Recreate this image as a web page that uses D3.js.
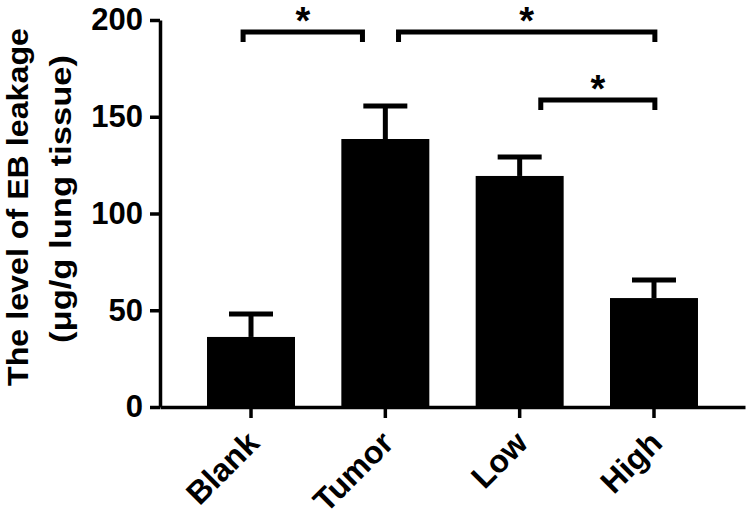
<!DOCTYPE html>
<html>
<head>
<meta charset="utf-8">
<script src="https://cdn.jsdelivr.net/npm/d3@7"></script>
<style>
  body { margin: 0; background: #fff; }
  svg { display: block; font-family: "Liberation Sans", Arial, sans-serif; font-weight: bold; }
</style>
</head>
<body>
<div id="chart"></div>
<script>
const groups = ["Blank", "Tumor", "Low", "High"];
const means = [36.2, 138.5, 119.4, 56.3];
const errors = [11.9, 17.1, 9.8, 9.3];
const yTicks = [0, 50, 100, 150, 200];
const titleLines = ["The level of EB leakage", "(\u03bcg/g lung tissue)"];

// significance brackets: from group, to group, where they sit in each band, level
const sigFrom = ["Blank", "Tumor", "Low"];
const sigTo = ["Tumor", "High", "High"];
const sigFromPos = [0.41, 0.65, 0.74];
const sigToPos = [0.24, 0.51, 0.51];
const sigLevel = [193.8, 193.8, 158.7];
const sigMark = ["*", "*", "*"];

const drawChart = () => {
  const width = 752;
  const height = 518;

  const x = d3.scaleBand()
      .domain(groups)
      .range([160, 745])
      .paddingInner(0.345)
      .paddingOuter(0.35);

  const y = d3.scaleLinear()
      .domain([0, 200])
      .range([407, 20]);

  const svg = d3.select("#chart")
      .append("svg")
      .attr("width", width)
      .attr("height", height);

  const rows = groups.map((g, i) => ({name: g, mean: means[i], err: errors[i]}));
  const cx = d => x(d.name) + x.bandwidth() / 2;
  const capHalf = x.bandwidth() * 0.25;

  // error bars (drawn first, bar covers the bottom of the stem)
  const eb = svg.append("g").attr("stroke", "#000").attr("stroke-width", 5);
  eb.selectAll(".stem").data(rows).enter().append("line")
      .attr("x1", cx).attr("x2", cx)
      .attr("y1", d => y(d.mean)).attr("y2", d => y(d.mean + d.err));
  eb.selectAll(".cap").data(rows).enter().append("line")
      .attr("x1", d => cx(d) - capHalf).attr("x2", d => cx(d) + capHalf)
      .attr("y1", d => y(d.mean + d.err)).attr("y2", d => y(d.mean + d.err));

  svg.selectAll("rect").data(rows).enter().append("rect")
      .attr("x", d => x(d.name))
      .attr("y", d => y(d.mean))
      .attr("width", x.bandwidth())
      .attr("height", d => y(0) - y(d.mean))
      .attr("fill", "#000");

  // axes
  const yAxis = svg.append("g")
      .attr("transform", "translate(160,0)")
      .call(d3.axisLeft(y).tickValues(yTicks).tickSize(10).tickSizeOuter(0).tickPadding(7));
  yAxis.selectAll("text").attr("font-size", 31).attr("font-family", null).attr("fill", "#000");

  const xAxis = svg.append("g")
      .attr("transform", "translate(0,407)")
      .call(d3.axisBottom(x).tickSize(11).tickSizeOuter(0));
  xAxis.selectAll("text")
      .attr("font-size", 32)
      .attr("font-family", null)
      .attr("fill", "#000")
      .attr("text-anchor", "end")
      .attr("y", 0)
      .attr("dy", 0)
      .attr("transform", "translate(10,38) rotate(-45)");

  svg.selectAll(".domain").attr("stroke-width", 3.5);
  svg.selectAll(".tick line").attr("stroke-width", 3.5);

  // y title, two lines
  const titleX = [28, 71];
  const titleY = [207, 199];
  const titleLen = [358, 288];
  svg.selectAll(".ytitle").data(titleLines).enter().append("text")
      .attr("class", "ytitle")
      .attr("text-anchor", "middle")
      .attr("font-size", 30)
      .attr("textLength", (d, i) => titleLen[i])
      .attr("lengthAdjust", "spacingAndGlyphs")
      .attr("transform", (d, i) => `translate(${titleX[i]},${titleY[i]}) rotate(-90)`)
      .text(d => d);

  // significance brackets
  const sig = sigFrom.map((f, i) => ({
    x1: x(f) + x.bandwidth() * sigFromPos[i],
    x2: x(sigTo[i]) + x.bandwidth() * sigToPos[i],
    y: y(sigLevel[i]),
    mark: sigMark[i]
  }));

  svg.selectAll(".bracket").data(sig).enter().append("path")
      .attr("fill", "none")
      .attr("stroke", "#000")
      .attr("stroke-width", 5)
      .attr("d", d => `M${d.x1},${d.y + 10}V${d.y}H${d.x2}V${d.y + 10}`);

  svg.selectAll(".star").data(sig).enter().append("text")
      .attr("text-anchor", "middle")
      .attr("font-size", 38)
      .attr("x", d => (d.x1 + d.x2) / 2)
      .attr("y", d => d.y + 2)
      .text(d => d.mark);
};

window.onload = drawChart;
</script>
</body>
</html>
